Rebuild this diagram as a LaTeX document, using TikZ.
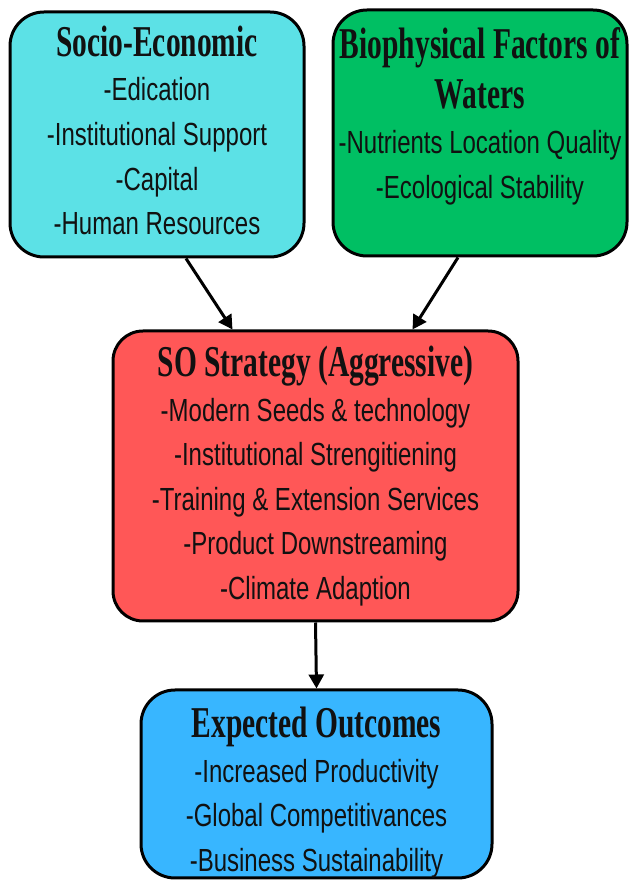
\documentclass[tikz,border=0pt]{standalone}
\usepackage{fontspec}
\usepackage{xcolor}
\usepackage{tikz}
\usetikzlibrary{calc,arrows.meta}
\newfontfamily\headfont[FakeStretch=0.67]{Liberation Serif}
\newfontfamily\itemfont[FakeStretch=0.75]{Liberation Sans}
\definecolor{socfill}{HTML}{5CE1E6}
\definecolor{biofill}{HTML}{00BF63}
\definecolor{sofill}{HTML}{FF5757}
\definecolor{outfill}{HTML}{38B6FF}
\definecolor{ink}{HTML}{111111}
\newcommand{\boxhead}[1]{{\headfont\bfseries\fontsize{44}{44}\selectfont #1}}
\tikzset{
  card/.style={draw=black, line width=3pt, rounded corners=34pt, align=center,
    text=ink, inner sep=0pt, font=\itemfont\fontsize{32}{44.6}\selectfont},
  flow/.style={draw=black, line width=3pt, -{Triangle[length=14pt,width=15pt]}},
}

\begin{document}
\begin{tikzpicture}[x=1pt,y=1pt]
  \useasboundingbox (0,0) rectangle (634,884);
  \fill[white] (0,0) rectangle (634,884);

  \node[card, fill=socfill, minimum width=294pt, minimum height=245pt] (soc) at (157,749.5)
    {\boxhead{Socio-Economic}\\ -Edication\\ -Institutional Support\\ -Capital\\ -Human Resources\\[-36pt] \mbox{}};
  \node[card, fill=biofill, minimum width=294pt, minimum height=246pt] (bio) at (480,751)
    {\boxhead{Biophysical Factors of}\\[6pt] \boxhead{Waters}\\ -Nutrients Location Quality\\ -Ecological Stability\\[-4pt] \mbox{}};
  \node[card, fill=sofill, rounded corners=30pt, minimum width=405pt, minimum height=290pt] (so) at (315.5,408)
    {\boxhead{SO Strategy (Aggressive)}\\ -Modern Seeds \& technology\\ -Institutional Strengitiening\\
     -Training \& Extension Services\\ -Product Downstreaming\\ -Climate Adaption};
  \node[card, fill=outfill, minimum width=351pt, minimum height=188pt] (out) at (316.5,100)
    {\boxhead{Expected Outcomes}\\ -Increased Productivity\\ -Global Competitivances\\ -Business Sustainability\\[-55pt] \mbox{}};

  \draw[flow] ([xshift=29pt]soc.south) -- ([xshift=-83pt]so.north);
  \draw[flow] ([xshift=-22pt]bio.south) -- ([xshift=97pt]so.north);
  \draw[flow] (so.south) -- (out.north);
\end{tikzpicture}
\end{document}
